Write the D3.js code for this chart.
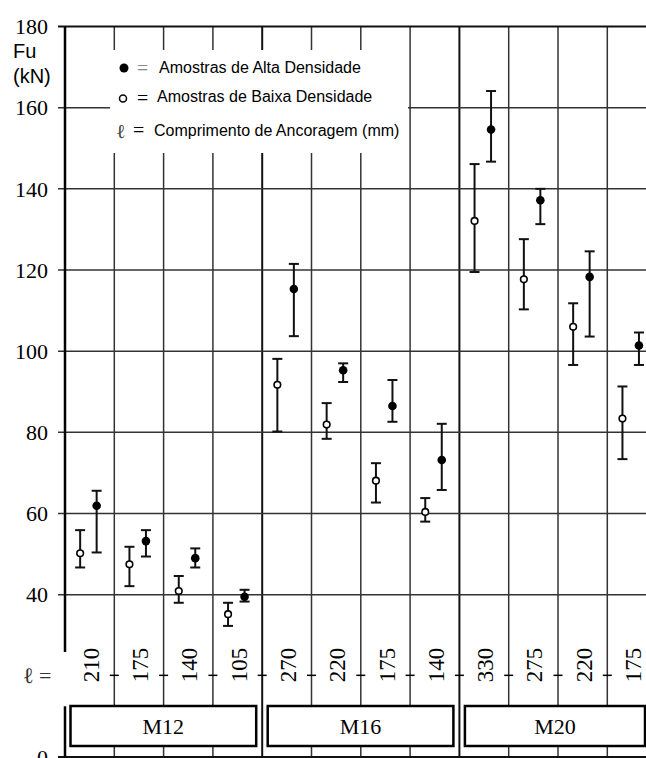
<!DOCTYPE html>
<html>
<head>
<meta charset="utf-8">
<script src="https://cdn.jsdelivr.net/npm/d3@7"></script>
<style>
  body { margin: 0; background: #fff; }
  svg { display: block; }
</style>
</head>
<body>
<svg id="chart"></svg>
<script>
// data
const groups = ['M12', 'M16', 'M20'];
const colGroup = [0, 0, 0, 0, 1, 1, 1, 1, 2, 2, 2, 2];
const lengths = ['210', '175', '140', '105', '270', '220', '175', '140', '330', '275', '220', '175'];

// low density (open circles)
const baixaMean = [50.2, 47.5, 40.9, 35.2, 91.7, 81.9, 68.1, 60.4, 132.1, 117.7, 106.0, 83.4];
const baixaLow  = [46.7, 42.1, 38.0, 32.3, 80.2, 78.4, 62.7, 58.0, 119.5, 110.3, 96.6, 73.4];
const baixaHigh = [55.9, 51.8, 44.6, 38.0, 98.1, 87.2, 72.4, 63.8, 146.1, 127.6, 111.8, 91.3];

// high density (filled circles)
const altaMean = [61.9, 53.2, 49.0, 39.5, 115.3, 95.3, 86.5, 73.2, 154.6, 137.2, 118.3, 101.4];
const altaLow  = [50.4, 49.4, 46.7, 38.3, 103.7, 92.4, 82.6, 65.8, 146.7, 131.3, 103.6, 96.6];
const altaHigh = [65.6, 55.9, 51.4, 41.2, 121.5, 97.0, 92.9, 82.1, 164.1, 140.0, 124.6, 104.6];

const yTicks = [40, 60, 80, 100, 120, 140, 160, 180];

const W = 646, H = 758;
const serif = '"Liberation Serif", "Times New Roman", serif';
const sans = '"Liberation Sans", Arial, sans-serif';

const svg = d3.select('#chart').attr('width', W).attr('height', H);

const x = d3.scaleBand()
    .domain(d3.range(lengths.length))
    .range([65, 65 + 49.3 * lengths.length]);
const bw = x.bandwidth();
const sub = d3.scalePoint().domain(['baixa', 'alta']).range([bw / 2 - 9.5, bw / 2 + 7]);

const y = d3.scaleLinear().domain([0, 180]).range([757, 26.5]);

const grid = svg.append('g');

// vertical lines between columns
grid.selectAll('line.v')
    .data(d3.range(1, lengths.length))
    .join('line')
    .attr('x1', i => x(i)).attr('x2', i => x(i))
    .attr('y1', y(180)).attr('y2', y(0))
    .attr('stroke', i => colGroup[i] !== colGroup[i - 1] ? '#111' : '#333')
    .attr('stroke-width', i => colGroup[i] !== colGroup[i - 1] ? 2 : 1.5);

// horizontal grid
grid.selectAll('line.h')
    .data(yTicks)
    .join('line')
    .attr('x1', 58).attr('x2', W)
    .attr('y1', d => y(d)).attr('y2', d => y(d))
    .attr('stroke', d => d === 180 ? '#111' : '#333')
    .attr('stroke-width', d => d === 180 ? 2 : 1.5);

// bottom line
grid.append('line')
    .attr('x1', 58).attr('x2', W)
    .attr('y1', y(0)).attr('y2', y(0))
    .attr('stroke', '#111').attr('stroke-width', 2);

// y axis line, broken at the ℓ label
grid.append('line')
    .attr('x1', 65).attr('x2', 65)
    .attr('y1', y(180)).attr('y2', y(25.9))
    .attr('stroke', '#000').attr('stroke-width', 2.5);
grid.append('line')
    .attr('x1', 65).attr('x2', 65)
    .attr('y1', y(12.5)).attr('y2', y(0))
    .attr('stroke', '#000').attr('stroke-width', 2.5);

// y tick labels
svg.selectAll('text.ytick')
    .data(yTicks.concat([0]))
    .join('text')
    .attr('x', 48)
    .attr('y', d => y(d))
    .attr('dy', '0.35em')
    .attr('text-anchor', 'end')
    .style('font-family', serif)
    .style('font-size', '22px')
    .text(d => d);

svg.append('text').attr('x', 13).attr('y', 58)
    .style('font-family', sans).style('font-size', '20px').text('Fu');
svg.append('text').attr('x', 13).attr('y', 83)
    .style('font-family', sans).style('font-size', '20px').text('(kN)');

// dashed line at 20 with the anchorage lengths
svg.selectAll('line.dash')
    .data(d3.range(1, lengths.length))
    .join('line')
    .attr('x1', i => x(i) - 4.5).attr('x2', i => x(i) + 4.5)
    .attr('y1', y(20) - 0.5).attr('y2', y(20) - 0.5)
    .attr('stroke', '#000').attr('stroke-width', 1.5);

svg.append('text')
    .attr('x', 23).attr('y', y(20) - 1)
    .attr('dy', '0.35em')
    .style('font-family', serif).style('font-size', '22px').style('fill', '#333')
    .text('ℓ =');

svg.selectAll('text.len')
    .data(lengths)
    .join('text')
    .attr('transform', (d, i) => `translate(${x(i) + bw / 2 + 1},665) rotate(-90)`)
    .attr('text-anchor', 'middle')
    .attr('dy', '0.35em')
    .style('font-family', serif)
    .style('font-size', '23px')
    .text(d => d);

// group boxes
const boxes = svg.selectAll('g.box')
    .data(groups)
    .join('g');
const firstCol = g => colGroup.indexOf(g);
const lastCol = g => colGroup.lastIndexOf(g);
boxes.append('rect')
    .attr('x', (d, g) => x(firstCol(g)) + 5.5)
    .attr('y', 706)
    .attr('width', (d, g) => Math.min(x(lastCol(g)) + bw - 6, 645) - (x(firstCol(g)) + 5.5))
    .attr('height', 40)
    .attr('fill', '#fff')
    .attr('stroke', '#000')
    .attr('stroke-width', 2.5);
boxes.append('text')
    .attr('x', (d, g) => (x(firstCol(g)) + 5.5 + Math.min(x(lastCol(g)) + bw - 6, 645)) / 2)
    .attr('y', 726)
    .attr('dy', '0.35em')
    .attr('text-anchor', 'middle')
    .style('font-family', serif)
    .style('font-size', '22px')
    .text(d => d);

// legend
const leg = svg.append('g');
leg.append('rect').attr('x', 110).attr('y', 50).attr('width', 298).attr('height', 103).attr('fill', '#fff');
leg.append('circle').attr('cx', 124).attr('cy', 68).attr('r', 4.5).attr('fill', '#000');
leg.append('circle').attr('cx', 123).attr('cy', 98.5).attr('r', 3.5)
    .attr('fill', '#fff').attr('stroke', '#000').attr('stroke-width', 1.5);
leg.append('text').attr('x', 137).attr('y', 68).attr('dy', '0.35em')
    .style('font-family', serif).style('font-size', '20px').style('fill', '#888').text('=');
leg.append('text').attr('x', 137).attr('y', 98).attr('dy', '0.35em')
    .style('font-family', serif).style('font-size', '20px').text('=');
leg.append('text').attr('x', 116).attr('y', 131).attr('dy', '0.35em')
    .style('font-family', serif).style('font-size', '20px').style('fill', '#444').text('ℓ');
leg.append('text').attr('x', 133).attr('y', 130).attr('dy', '0.35em')
    .style('font-family', serif).style('font-size', '20px').text('=');
leg.append('text').attr('x', 159).attr('y', 73)
    .style('font-family', sans).style('font-size', '16px').text('Amostras de Alta Densidade');
leg.append('text').attr('x', 157).attr('y', 102)
    .style('font-family', sans).style('font-size', '16px').text('Amostras de Baixa Densidade');
leg.append('text').attr('x', 154).attr('y', 136)
    .style('font-family', sans).style('font-size', '16px').text('Comprimento de Ancoragem (mm)');

// error bars
const series = [
    { key: 'baixa', mean: baixaMean, low: baixaLow, high: baixaHigh, open: true },
    { key: 'alta', mean: altaMean, low: altaLow, high: altaHigh, open: false }
];

series.forEach(s => {
    const g = svg.append('g').attr('class', 'series-' + s.key);
    const cx = i => x(i) + sub(s.key);
    const idx = d3.range(s.mean.length);
    g.selectAll('line.bar').data(idx).join('line')
        .attr('x1', cx).attr('x2', cx)
        .attr('y1', i => y(s.low[i])).attr('y2', i => y(s.high[i]))
        .attr('stroke', '#111').attr('stroke-width', 2);
    g.selectAll('line.capT').data(idx).join('line')
        .attr('x1', i => cx(i) - 5).attr('x2', i => cx(i) + 5)
        .attr('y1', i => y(s.high[i])).attr('y2', i => y(s.high[i]))
        .attr('stroke', '#111').attr('stroke-width', 2);
    g.selectAll('line.capB').data(idx).join('line')
        .attr('x1', i => cx(i) - 5).attr('x2', i => cx(i) + 5)
        .attr('y1', i => y(s.low[i])).attr('y2', i => y(s.low[i]))
        .attr('stroke', '#111').attr('stroke-width', 2);
    g.selectAll('circle').data(idx).join('circle')
        .attr('cx', cx)
        .attr('cy', i => y(s.mean[i]))
        .attr('r', s.open ? 3.3 : 4.3)
        .attr('fill', s.open ? '#fff' : '#000')
        .attr('stroke', '#000')
        .attr('stroke-width', s.open ? 1.6 : 0);
});
</script>
</body>
</html>
